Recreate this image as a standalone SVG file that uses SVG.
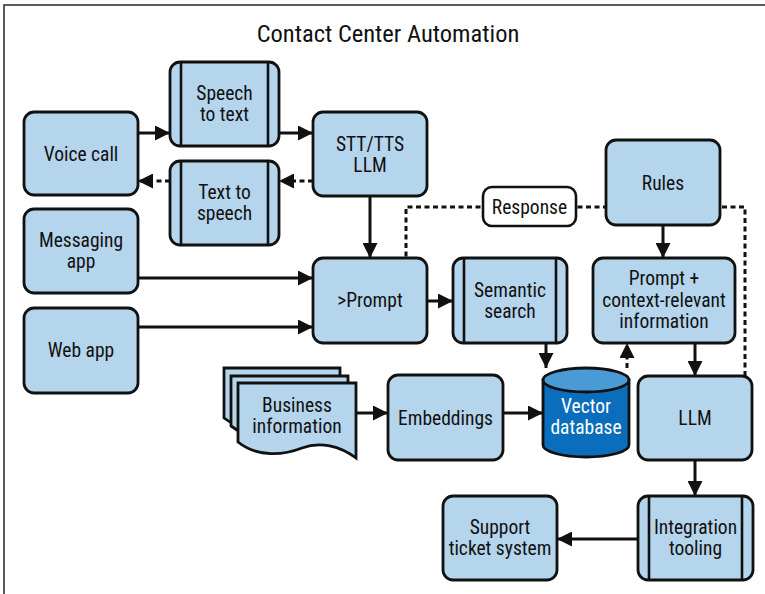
<svg xmlns="http://www.w3.org/2000/svg" width="765" height="594" viewBox="0 0 765 594">
<style>
  .node{fill:#b4d5ec;stroke:#111;stroke-width:2.8}
  .lbl{font-family:"Liberation Sans Narrow","Roboto Condensed","DejaVu Sans Condensed","Liberation Sans",sans-serif;font-size:19.5px;fill:#111;text-anchor:middle}
  .bar{stroke:#111;stroke-width:2.6}
  .c{fill:none;stroke:#111;stroke-width:3}
  .d{fill:none;stroke:#111;stroke-width:3;stroke-dasharray:5 3.5}
</style>
<defs>
  <marker id="ah" viewBox="0 0 14 14" markerWidth="15" markerHeight="15" refX="14" refY="7" orient="auto" markerUnits="userSpaceOnUse">
    <path d="M0,0 L14,7 L0,14 z" fill="#111"/>
  </marker>
</defs>
<rect x="4" y="5" width="780" height="620" fill="#fff" stroke="#333" stroke-width="1.6"/>
<text x="388" y="42" class="lbl" style="font-size:24.5px">Contact Center Automation</text>

<g id="connectors">
  <path class="c" d="M138,133 H170" marker-end="url(#ah)"/>
  <path class="c" d="M279,133 H313" marker-end="url(#ah)"/>
  <path class="d" d="M313,181 H279" marker-end="url(#ah)"/>
  <path class="d" d="M170,181 H138" marker-end="url(#ah)"/>
  <path class="c" d="M370,196 V258" marker-end="url(#ah)"/>
  <path class="c" d="M138,278 H313" marker-end="url(#ah)"/>
  <path class="c" d="M138,327 H313" marker-end="url(#ah)"/>
  <path class="c" d="M427,301 H453" marker-end="url(#ah)"/>
  <path class="c" d="M546,343 V368" marker-end="url(#ah)"/>
  <path class="c" d="M356,413 H388" marker-end="url(#ah)"/>
  <path class="c" d="M503,413 H543" marker-end="url(#ah)"/>
  <path class="d" d="M627,368 V343" marker-end="url(#ah)"/>
  <path class="c" d="M663,225 V258" marker-end="url(#ah)"/>
  <path class="c" d="M695,343 V376" marker-end="url(#ah)"/>
  <path class="c" d="M695,460 V496" marker-end="url(#ah)"/>
  <path class="c" d="M638,539 H557" marker-end="url(#ah)"/>
  <path class="d" d="M745,376 V207 H406 V258"/>
</g>

<g id="voice-call"><rect class="node" x="24" y="112" width="114" height="83" rx="10"/><text class="lbl" x="81" y="161">Voice call</text></g>
<g id="speech-to-text"><rect class="node" x="170" y="62" width="109" height="84" rx="10"/><line class="bar" x1="181" y1="62" x2="181" y2="146"/><line class="bar" x1="268" y1="62" x2="268" y2="146"/><text class="lbl" x="224.5" y="100">Speech</text><text class="lbl" x="224.5" y="121">to text</text></g>
<g id="text-to-speech"><rect class="node" x="170" y="161" width="109" height="84" rx="10"/><line class="bar" x1="181" y1="161" x2="181" y2="245"/><line class="bar" x1="268" y1="161" x2="268" y2="245"/><text class="lbl" x="224.5" y="199">Text to</text><text class="lbl" x="224.5" y="220">speech</text></g>
<g id="stt-tts-llm"><rect class="node" x="313" y="112" width="114" height="84" rx="10"/><text class="lbl" x="370" y="151">STT/TTS</text><text class="lbl" x="370" y="172">LLM</text></g>
<g id="messaging-app"><rect class="node" x="24" y="209" width="114" height="84" rx="10"/><text class="lbl" x="81" y="247">Messaging</text><text class="lbl" x="81" y="268">app</text></g>
<g id="web-app"><rect class="node" x="24" y="308" width="114" height="85" rx="10"/><text class="lbl" x="81" y="357">Web app</text></g>
<g id="prompt"><rect class="node" x="313" y="258" width="114" height="85" rx="10"/><text class="lbl" x="370" y="307">&gt;Prompt</text></g>
<g id="semantic-search"><rect class="node" x="453" y="258" width="114" height="85" rx="10"/><line class="bar" x1="464" y1="258" x2="464" y2="343"/><line class="bar" x1="556" y1="258" x2="556" y2="343"/><text class="lbl" x="510" y="297">Semantic</text><text class="lbl" x="510" y="318">search</text></g>
<g id="rules"><rect class="node" x="606" y="140" width="114" height="85" rx="10"/><text class="lbl" x="663" y="190">Rules</text></g>
<g id="response"><rect x="483" y="187" width="93" height="39" rx="9" fill="#fff" stroke="#111" stroke-width="2.6"/><text class="lbl" x="529.5" y="214">Response</text></g>
<g id="prompt-context"><rect class="node" x="593" y="258" width="142" height="85" rx="10"/><text class="lbl" x="664" y="285">Prompt +</text><text class="lbl" x="664" y="306.5">context-relevant</text><text class="lbl" x="664" y="328">information</text></g>
<g id="business-information">
  <path class="node" d="M224,368 H340 V428 C324,417 304,416 290,424 C274,432 246,435 224,418 Z"/>
  <path class="node" d="M231,376 H348 V436 C332,425 312,424 298,432 C282,440 254,443 231,426 Z"/>
  <path class="node" d="M238,383 H356 V458 C340,446 320,441 302,448 C284,455 258,458 238,442 Z"/>
  <text class="lbl" x="297" y="412">Business</text><text class="lbl" x="297" y="433">information</text>
</g>
<g id="embeddings"><rect class="node" x="388" y="375" width="115" height="85" rx="10"/><text class="lbl" x="445.5" y="425">Embeddings</text></g>
<g id="vector-database">
  <path d="M543,380 V445 A43,12 0 0 0 629,445 V380 Z" fill="#0a6ebd" stroke="#111" stroke-width="2.8"/>
  <ellipse cx="586" cy="380" rx="43" ry="12" fill="#4a9bd5" stroke="#111" stroke-width="2.8"/>
  <text class="lbl" x="586" y="413" style="fill:#fff">Vector</text><text class="lbl" x="586" y="434" style="fill:#fff">database</text>
</g>
<g id="llm"><rect class="node" x="638" y="376" width="114" height="84" rx="10"/><text class="lbl" x="695" y="425">LLM</text></g>
<g id="integration-tooling"><rect class="node" x="638" y="496" width="115" height="84" rx="10"/><line class="bar" x1="649" y1="496" x2="649" y2="580"/><line class="bar" x1="742" y1="496" x2="742" y2="580"/><text class="lbl" x="695.5" y="534">Integration</text><text class="lbl" x="695.5" y="555">tooling</text></g>
<g id="support-ticket-system"><rect class="node" x="443" y="496" width="114" height="84" rx="10"/><text class="lbl" x="500" y="534">Support</text><text class="lbl" x="500" y="555">ticket system</text></g>
</svg>
